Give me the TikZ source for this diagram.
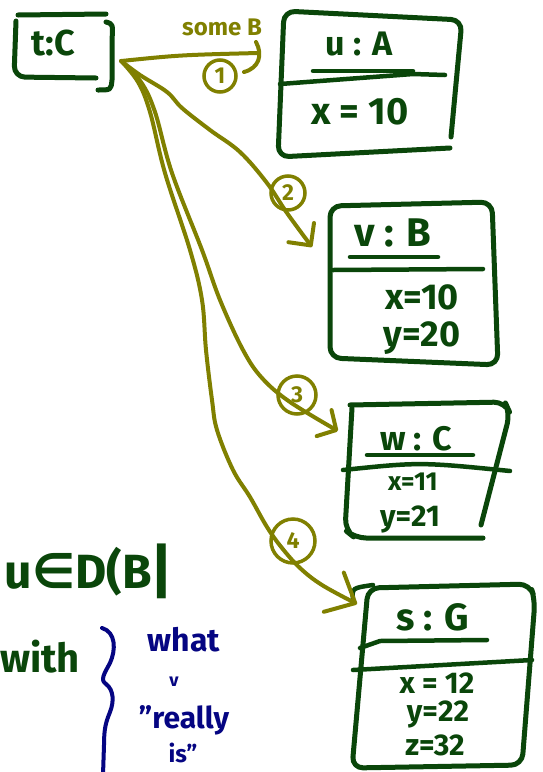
\documentclass[tikz,border=0pt]{standalone}
\usepackage{fontspec}
\setmainfont{Fira Sans}
\newfontfamily\symfont{DejaVu Sans}
\usetikzlibrary{arrows.meta}
\definecolor{ink}{RGB}{10,70,10}
\definecolor{pen}{RGB}{128,128,0}
\definecolor{navyink}{RGB}{5,5,130}
\tikzset{
  boxline/.style={draw=ink, line width=5pt, line cap=round, line join=round, rounded corners=11pt},
  rule/.style={draw=ink, line width=4.5pt, line cap=round},
  lbl/.style={text=ink, inner sep=0pt, font=\bfseries\fontsize{#1}{#1}\selectfont},
  note/.style={text=navyink, inner sep=0pt, font=\bfseries\fontsize{#1}{#1}\selectfont},
  link/.style={draw=pen, line width=4pt, line cap=round, line join=round},
  num/.style={circle, draw=pen, line width=3.5pt, text=pen, inner sep=0pt,
    minimum size=#1, font=\bfseries\fontsize{23}{23}\selectfont},
  frame/.style={inner sep=0pt, draw=none},
}
\begin{document}
\begin{tikzpicture}[x=1pt,y=-1pt]
\useasboundingbox (0,0) rectangle (542,772);
\fill[white] (0,0) rectangle (542,772);

% ---- object t : C
\node[frame, minimum width=100pt, minimum height=76pt] (t) at (63,52) {};
\draw[boxline] (16,21) -- (14,77) -- (96,78);
\draw[boxline, rounded corners=0pt] (18,15) -- (106,14);
\draw[boxline, rounded corners=0pt] (106,22) .. controls (113,24) .. (112,40) -- (112,80) .. controls (111,90) .. (98,90);
\node[lbl=36] (tC) at (53,43) {t:C};
\coordinate (tout) at ([shift={(8,9)}]t.east);

% ---- object u : A
\node[frame, minimum width=184pt, minimum height=146pt] (u) at (370,84) {};
\draw[boxline] (451,137) -- (462,20) -- (284,11) -- (278,157) -- (450,148);
\node[lbl=34] (uA) at (359,44) {u : A};
\draw[rule] (313,71) -- (413,71);
\draw[rule] (280,84) -- (413,74) -- (445,75);
\node[lbl=38] (uAx) at (360,112) {x = 10};

% ---- object v : B
\node[frame, minimum width=168pt, minimum height=160pt] (v) at (414,284) {};
\draw[boxline] (330,206) -- (492,202) -- (498,365) -- (330,358) -- cycle;
\node[lbl=40] (vB) at (393,233) {v : B};
\draw[rule] (350,257) -- (438,257);
\draw[rule] (333,270) -- (483,269);
\node[lbl=36] (vBx) at (422,297) {x=10};
\node[lbl=36] (vBy) at (422,338) {y=20};

% ---- object w : C
\node[frame, minimum width=160pt, minimum height=134pt] (w) at (428,470) {};
\draw[boxline] (352,408) -- (345,530) -- (355,538) -- (483,538);
\draw[boxline] (350,405) -- (505,402) -- (510,413) -- (481,525);
\node[lbl=34] (wC) at (416,439) {w : C};
\draw[rule] (367,455) -- (473,455);
\draw[rule] (343,470) .. controls (420,462) .. (510,471);
\node[lbl=26] (wCx) at (413,482) {x=11};
\node[lbl=30] (wCy) at (410,519) {y=21};

% ---- object s : G
\node[frame, minimum width=180pt, minimum height=184pt] (s) at (442,676) {};
\draw[boxline] (368,588) -- (530,584) -- (535,600) -- (522,765) -- (352,768) -- cycle;
\draw[ink, line width=4.5pt, line cap=round] (353,600) .. controls (352,588) .. (373,585);
\node[lbl=38] (sG) at (433,617) {s : G};
\draw[rule] (360,648) -- (380,641) -- (487,640);
\draw[rule] (353,670) -- (532,660);
\node[lbl=30] (sGx) at (437,683) {x = 12};
\node[lbl=30] (sGy) at (438,714) {y=22};
\node[lbl=30] (sGz) at (435,745) {z=32};

% ---- connectors out of t
\coordinate (one) at (258,53);
\coordinate (two) at (312,247);
\coordinate (three) at (338,431);
\coordinate (four) at (357,604);

\draw[link] (tout) .. controls (180,55) .. (one);
\draw[link] ([shift={(-2,-11)}]one) .. controls ([shift={(5,2)}]one) and ([shift={(1,15)}]one) .. ([shift={(-14,19)}]one);
\node[text=pen, inner sep=0pt, font=\bfseries\fontsize{24}{24}\selectfont] (some) at (222,27) {some B};
\node[num=32pt] (n1) at (220,76) {1};

\draw[link, -{Straight Barb[round, length=16pt, width=32pt]}]
  plot[smooth, tension=0.6] coordinates {(tout) (140,75) (167,92) (182,108) (210,130) (240,152) (267,183) (287,213) (two)};
\node[num=34pt] (n2) at (288,193) {2};

\draw[link, -{Straight Barb[round, length=14pt, width=30pt]}]
  plot[smooth, tension=0.6] coordinates {(tout) (141,82) (155,112) (172,173) (202,250) (220,300) (243,350) (262,378) (290,402) (three)};
\node[num=38pt] (n3) at (297,395) {3};

\draw[link, -{Straight Barb[round, length=24pt, width=44pt]}]
  plot[smooth, tension=0.6] coordinates {(tout) (138,82) (150,112) (165,173) (190,250) (202,300) (206,350) (212,400) (217,430) (233,470) (250,497) (267,527) (282,548) (300,568) (322,585) (four)};
\node[num=44pt] (n4) at (293,541) {4};

% ---- side notes
\node[lbl=48, anchor=base east] (dom) at (152,588) {u{\symfont ∈}D(B};
\node[lbl=60, anchor=base] (bar) at (162,592) {|};
\node[lbl=40, anchor=base east] (with) at (80,672) {with};
\draw[navyink, line width=4pt, line cap=round, line join=round]
  (102,628) .. controls (116,632) and (116,650) .. (110,663)
  .. controls (104,674) and (100,680) .. (106,684)
  .. controls (114,690) and (114,702) .. (110,712)
  .. controls (106,722) and (104,728) .. (104,745) -- (103,775);
\node[note=32] (what) at (184,640) {what};
\node[note=18] (tick) at (174,682) {v};
\node[note=30] (really) at (184,720) {"really};
\node[note=24, anchor=base] (is) at (183,762) {is"};
\end{tikzpicture}
\end{document}
